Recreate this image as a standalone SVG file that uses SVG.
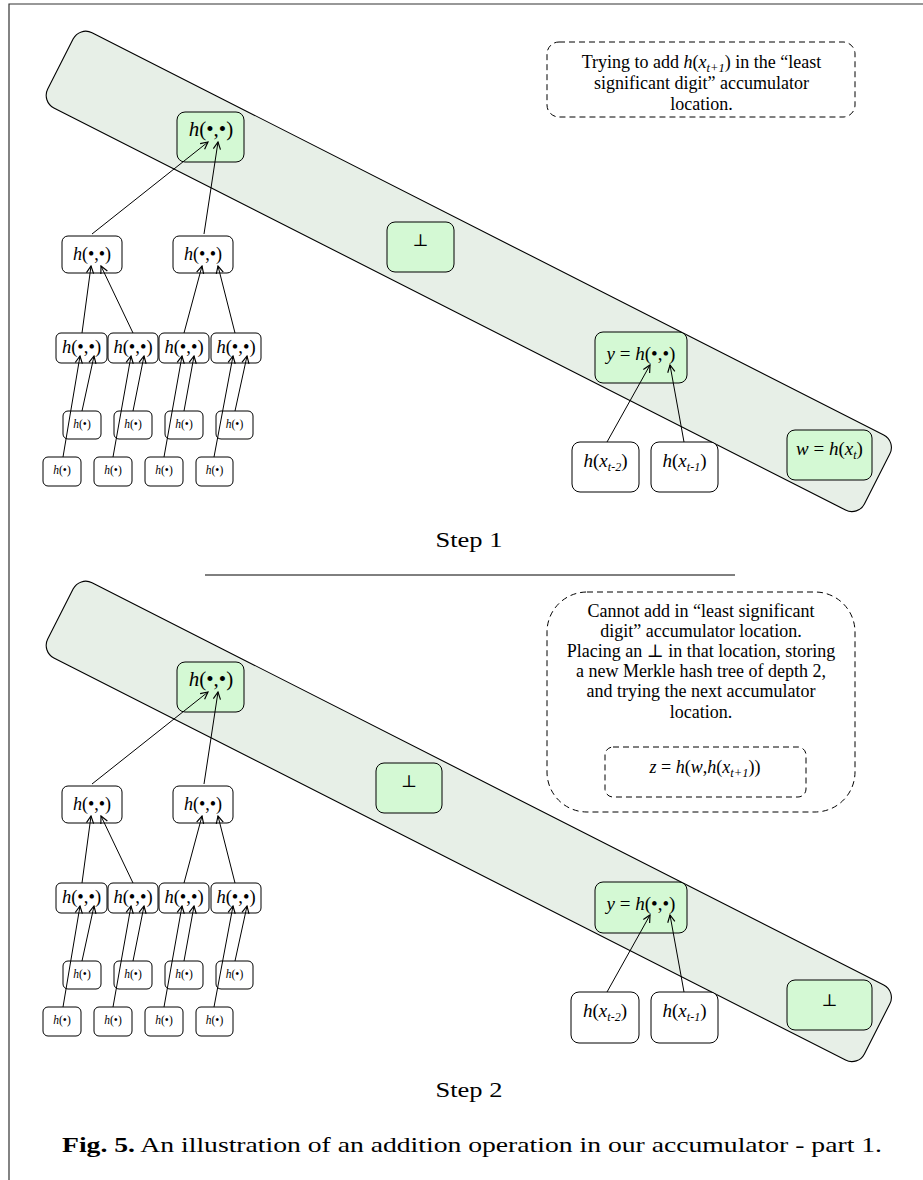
<svg xmlns="http://www.w3.org/2000/svg" width="923" height="1180" viewBox="0 0 923 1180">
<defs>
<marker id="ah" viewBox="0 0 10 10" refX="9" refY="5" markerWidth="9" markerHeight="9" markerUnits="userSpaceOnUse" orient="auto">
<path d="M1,1 L9,5 L1,9" fill="none" stroke="#000" stroke-width="1.3"/>
</marker>
</defs>
<style>
.band{fill:#e7efe7;stroke:#000;stroke-width:1.1}
.n{fill:#fff;stroke:#000;stroke-width:1}
.gr{fill:#d4f9d4;stroke:#000;stroke-width:1}
.t{font-family:"Liberation Serif","DejaVu Serif",serif;fill:#000;text-anchor:middle}
.i{font-style:italic}
.note{fill:none;stroke:#000;stroke-width:1;stroke-dasharray:6 4}
.cn line{stroke:#000;stroke-width:1;marker-end:url(#ah)}
.frame{stroke:#333;stroke-width:1.2;fill:none}
</style>
<rect width="923" height="1180" fill="#fff"/>
<path class="frame" d="M9,1180 L9,4 L923,4"/>

<!-- STEP 1 -->
<g id="step1">
<g id="band1"><rect class="band" x="-458" y="-42.15" width="916" height="84.3" rx="14" transform="translate(468.8,271.4) rotate(26.93)"/></g>
<g id="root1"><rect class="gr" x="177" y="112" width="67" height="50" rx="8"/><text class="t" x="211" y="136" font-size="21"><tspan class="i">h</tspan>(•,•)</text></g>
<g id="l2a1"><rect class="n" x="62" y="236" width="60" height="37" rx="6"/><text class="t" x="92" y="260" font-size="18"><tspan class="i">h</tspan>(•,•)</text></g>
<g id="l2b1"><rect class="n" x="173" y="236" width="60" height="37" rx="6"/><text class="t" x="203" y="260" font-size="18"><tspan class="i">h</tspan>(•,•)</text></g>
<g id="l3a1"><rect class="n" x="56" y="333" width="51" height="30" rx="5"/><text class="t" x="81.5" y="353" font-size="18.5"><tspan class="i">h</tspan>(•,•)</text></g>
<g id="l3b1"><rect class="n" x="108" y="333" width="50" height="30" rx="5"/><text class="t" x="133" y="353" font-size="18.5"><tspan class="i">h</tspan>(•,•)</text></g>
<g id="l3c1"><rect class="n" x="159" y="333" width="50" height="30" rx="5"/><text class="t" x="184" y="353" font-size="18.5"><tspan class="i">h</tspan>(•,•)</text></g>
<g id="l3d1"><rect class="n" x="211" y="333" width="50" height="30" rx="5"/><text class="t" x="236" y="353" font-size="18.5"><tspan class="i">h</tspan>(•,•)</text></g>
<g id="u1a"><rect class="n" x="63" y="411" width="38" height="28" rx="5"/><text class="t" x="82" y="428" font-size="11.5"><tspan class="i">h</tspan>(•)</text></g>
<g id="u1b"><rect class="n" x="114" y="411" width="38" height="28" rx="5"/><text class="t" x="133" y="428" font-size="11.5"><tspan class="i">h</tspan>(•)</text></g>
<g id="u1c"><rect class="n" x="165" y="411" width="38" height="28" rx="5"/><text class="t" x="184" y="428" font-size="11.5"><tspan class="i">h</tspan>(•)</text></g>
<g id="u1d"><rect class="n" x="216" y="411" width="37" height="28" rx="5"/><text class="t" x="234.5" y="428" font-size="11.5"><tspan class="i">h</tspan>(•)</text></g>
<g id="lo1a"><rect class="n" x="43" y="457" width="38" height="29" rx="5"/><text class="t" x="62" y="474" font-size="11.5"><tspan class="i">h</tspan>(•)</text></g>
<g id="lo1b"><rect class="n" x="94" y="457" width="38" height="29" rx="5"/><text class="t" x="113" y="474" font-size="11.5"><tspan class="i">h</tspan>(•)</text></g>
<g id="lo1c"><rect class="n" x="145" y="457" width="38" height="29" rx="5"/><text class="t" x="164" y="474" font-size="11.5"><tspan class="i">h</tspan>(•)</text></g>
<g id="lo1d"><rect class="n" x="196" y="457" width="37" height="29" rx="5"/><text class="t" x="214.5" y="474" font-size="11.5"><tspan class="i">h</tspan>(•)</text></g>
<g id="bot1"><rect class="gr" x="387" y="222" width="67" height="50" rx="8"/><text class="t" x="420.5" y="246" font-size="17">⊥</text></g>
<g id="y1"><rect class="gr" x="595" y="332" width="92" height="51" rx="8"/><text class="t" x="641" y="360" font-size="19"><tspan class="i">y</tspan> = <tspan class="i">h</tspan>(•,•)</text></g>
<g id="xt2a"><rect class="n" x="572" y="442" width="67" height="50" rx="8"/><text class="t" x="605.5" y="467" font-size="19"><tspan class="i">h</tspan>(<tspan class="i">x</tspan><tspan class="i" font-size="12" dy="4">t-2</tspan><tspan dy="-4">)</tspan></text></g>
<g id="xt1a"><rect class="n" x="651" y="442" width="67" height="50" rx="8"/><text class="t" x="684.5" y="467" font-size="19"><tspan class="i">h</tspan>(<tspan class="i">x</tspan><tspan class="i" font-size="12" dy="4">t-1</tspan><tspan dy="-4">)</tspan></text></g>
<g id="w1"><rect class="gr" x="787" y="430" width="85" height="50" rx="8"/><text class="t" x="829.5" y="455" font-size="19"><tspan class="i">w</tspan> = <tspan class="i">h</tspan>(<tspan class="i">x</tspan><tspan class="i" font-size="12" dy="4">t</tspan><tspan dy="-4">)</tspan></text></g>
<g id="note1"><rect class="note" x="547" y="42" width="308" height="75" rx="12"/>
<text class="t" x="701.5" y="68" font-size="18">Trying to add <tspan class="i">h</tspan>(<tspan class="i">x</tspan><tspan class="i" font-size="12.5" dy="4">t+1</tspan><tspan dy="-4">) in the “least</tspan></text>
<text class="t" x="701.5" y="89" font-size="18">significant digit” accumulator</text>
<text class="t" x="701.5" y="110" font-size="18">location.</text></g>
</g>
<g id="connectors1" class="cn">
<line x1="92" y1="234" x2="208" y2="142"/>
<line x1="204" y1="234" x2="218" y2="142"/>
<line x1="82" y1="333" x2="91" y2="266"/>
<line x1="133" y1="333" x2="101" y2="266"/>
<line x1="184" y1="333" x2="202" y2="266"/>
<line x1="235" y1="333" x2="218" y2="266"/>
<line x1="63" y1="457" x2="80" y2="356"/>
<line x1="82" y1="411" x2="94" y2="356"/>
<line x1="113" y1="457" x2="131" y2="356"/>
<line x1="133" y1="411" x2="144" y2="356"/>
<line x1="164" y1="457" x2="182" y2="356"/>
<line x1="184" y1="411" x2="194" y2="356"/>
<line x1="214" y1="457" x2="233" y2="356"/>
<line x1="235" y1="411" x2="247" y2="356"/>
<line x1="607" y1="442" x2="650" y2="365"/>
<line x1="684" y1="442" x2="670" y2="365"/>
</g>
<text class="t" x="469" y="547" font-size="22" textLength="67" lengthAdjust="spacingAndGlyphs">Step 1</text>
<line x1="205" y1="575" x2="735" y2="575" stroke="#000" stroke-width="1"/>

<!-- STEP 2 -->
<g id="step2" transform="translate(0,550)">
<g id="band2"><rect class="band" x="-458" y="-42.15" width="916" height="84.3" rx="14" transform="translate(468.8,271.4) rotate(26.93)"/></g>
<g id="root2"><rect class="gr" x="177" y="112" width="67" height="50" rx="8"/><text class="t" x="211" y="136" font-size="21"><tspan class="i">h</tspan>(•,•)</text></g>
<g id="l2a2"><rect class="n" x="62" y="236" width="60" height="37" rx="6"/><text class="t" x="92" y="260" font-size="18"><tspan class="i">h</tspan>(•,•)</text></g>
<g id="l2b2"><rect class="n" x="173" y="236" width="60" height="37" rx="6"/><text class="t" x="203" y="260" font-size="18"><tspan class="i">h</tspan>(•,•)</text></g>
<g id="l3a2"><rect class="n" x="56" y="333" width="51" height="30" rx="5"/><text class="t" x="81.5" y="353" font-size="18.5"><tspan class="i">h</tspan>(•,•)</text></g>
<g id="l3b2"><rect class="n" x="108" y="333" width="50" height="30" rx="5"/><text class="t" x="133" y="353" font-size="18.5"><tspan class="i">h</tspan>(•,•)</text></g>
<g id="l3c2"><rect class="n" x="159" y="333" width="50" height="30" rx="5"/><text class="t" x="184" y="353" font-size="18.5"><tspan class="i">h</tspan>(•,•)</text></g>
<g id="l3d2"><rect class="n" x="211" y="333" width="50" height="30" rx="5"/><text class="t" x="236" y="353" font-size="18.5"><tspan class="i">h</tspan>(•,•)</text></g>
<g id="u2a"><rect class="n" x="63" y="411" width="38" height="28" rx="5"/><text class="t" x="82" y="428" font-size="11.5"><tspan class="i">h</tspan>(•)</text></g>
<g id="u2b"><rect class="n" x="114" y="411" width="38" height="28" rx="5"/><text class="t" x="133" y="428" font-size="11.5"><tspan class="i">h</tspan>(•)</text></g>
<g id="u2c"><rect class="n" x="165" y="411" width="38" height="28" rx="5"/><text class="t" x="184" y="428" font-size="11.5"><tspan class="i">h</tspan>(•)</text></g>
<g id="u2d"><rect class="n" x="216" y="411" width="37" height="28" rx="5"/><text class="t" x="234.5" y="428" font-size="11.5"><tspan class="i">h</tspan>(•)</text></g>
<g id="lo2a"><rect class="n" x="43" y="457" width="38" height="29" rx="5"/><text class="t" x="62" y="474" font-size="11.5"><tspan class="i">h</tspan>(•)</text></g>
<g id="lo2b"><rect class="n" x="94" y="457" width="38" height="29" rx="5"/><text class="t" x="113" y="474" font-size="11.5"><tspan class="i">h</tspan>(•)</text></g>
<g id="lo2c"><rect class="n" x="145" y="457" width="38" height="29" rx="5"/><text class="t" x="164" y="474" font-size="11.5"><tspan class="i">h</tspan>(•)</text></g>
<g id="lo2d"><rect class="n" x="196" y="457" width="37" height="29" rx="5"/><text class="t" x="214.5" y="474" font-size="11.5"><tspan class="i">h</tspan>(•)</text></g>
<g id="bot2"><rect class="gr" x="376" y="213" width="66" height="50" rx="8"/><text class="t" x="409" y="237" font-size="17">⊥</text></g>
<g id="y2"><rect class="gr" x="595" y="332" width="92" height="51" rx="8"/><text class="t" x="641" y="360" font-size="19"><tspan class="i">y</tspan> = <tspan class="i">h</tspan>(•,•)</text></g>
<g id="xt2b"><rect class="n" x="571" y="442" width="68" height="51" rx="8"/><text class="t" x="605" y="467" font-size="19"><tspan class="i">h</tspan>(<tspan class="i">x</tspan><tspan class="i" font-size="12" dy="4">t-2</tspan><tspan dy="-4">)</tspan></text></g>
<g id="xt1b"><rect class="n" x="651" y="442" width="67" height="51" rx="8"/><text class="t" x="684.5" y="467" font-size="19"><tspan class="i">h</tspan>(<tspan class="i">x</tspan><tspan class="i" font-size="12" dy="4">t-1</tspan><tspan dy="-4">)</tspan></text></g>
<g id="bot3"><rect class="gr" x="787" y="430" width="85" height="50" rx="8"/><text class="t" x="829.5" y="456" font-size="17">⊥</text></g>
</g>
<g id="note2">
<rect class="note" x="547" y="592" width="308" height="220" rx="40"/>
<text class="t" x="701" y="617" font-size="18">Cannot add in “least significant</text>
<text class="t" x="701" y="637" font-size="18">digit” accumulator location.</text>
<text class="t" x="701" y="657" font-size="18">Placing an ⊥ in that location, storing</text>
<text class="t" x="701" y="677" font-size="18">a new Merkle hash tree of depth 2,</text>
<text class="t" x="701" y="697" font-size="18">and trying the next accumulator</text>
<text class="t" x="701" y="718" font-size="18">location.</text>
</g>
<g id="note3">
<rect class="note" x="605" y="747" width="201" height="50" rx="8"/>
<text class="t" x="705" y="773" font-size="18"><tspan class="i">z</tspan> = <tspan class="i">h</tspan>(<tspan class="i">w</tspan>,<tspan class="i">h</tspan>(<tspan class="i">x</tspan><tspan class="i" font-size="12.5" dy="4">t+1</tspan><tspan dy="-4">))</tspan></text>
</g>
<g id="connectors2" class="cn" transform="translate(0,550)">
<line x1="92" y1="234" x2="208" y2="142"/>
<line x1="204" y1="234" x2="218" y2="142"/>
<line x1="82" y1="333" x2="91" y2="266"/>
<line x1="133" y1="333" x2="101" y2="266"/>
<line x1="184" y1="333" x2="202" y2="266"/>
<line x1="235" y1="333" x2="218" y2="266"/>
<line x1="63" y1="457" x2="80" y2="356"/>
<line x1="82" y1="411" x2="94" y2="356"/>
<line x1="113" y1="457" x2="131" y2="356"/>
<line x1="133" y1="411" x2="144" y2="356"/>
<line x1="164" y1="457" x2="182" y2="356"/>
<line x1="184" y1="411" x2="194" y2="356"/>
<line x1="214" y1="457" x2="233" y2="356"/>
<line x1="235" y1="411" x2="247" y2="356"/>
<line x1="607" y1="442" x2="650" y2="365"/>
<line x1="684" y1="442" x2="670" y2="365"/>
</g>
<text class="t" x="469" y="1097" font-size="22" textLength="67" lengthAdjust="spacingAndGlyphs">Step 2</text>
<text class="t" x="472" y="1152" font-size="22" textLength="820" lengthAdjust="spacingAndGlyphs"><tspan font-weight="bold">Fig. 5.</tspan> An illustration of an addition operation in our accumulator - part 1.</text>
</svg>
